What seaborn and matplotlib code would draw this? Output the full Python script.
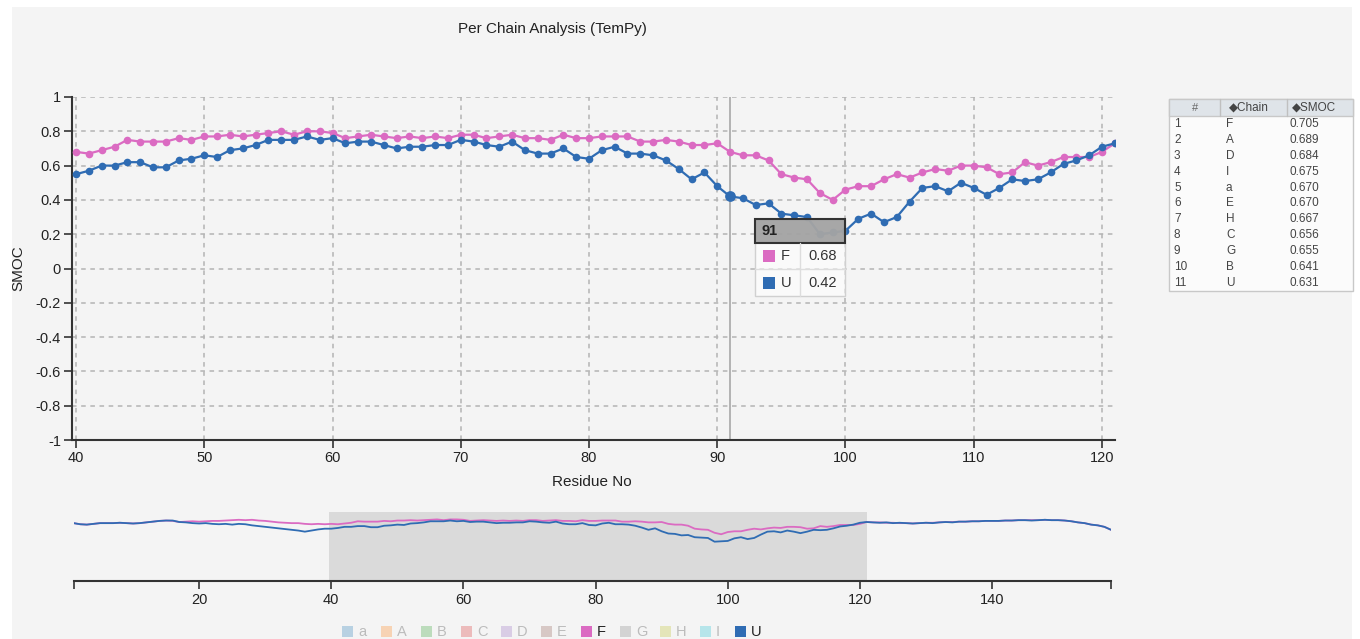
import numpy as np
import pandas as pd
import matplotlib
matplotlib.use("Agg")
import matplotlib.pyplot as plt
import matplotlib.colors as mcolors
import seaborn as sns
from matplotlib.patches import Rectangle
from matplotlib.lines import Line2D

# ---------------------------------------------------------------- data
residues = list(range(1, 159))

smoc_F = [
    # 1-39
    0.70, 0.67, 0.66, 0.68, 0.70, 0.70, 0.70, 0.71, 0.70, 0.69,
    0.70, 0.72, 0.74, 0.76, 0.77, 0.76, 0.73, 0.74, 0.75, 0.74,
    0.75, 0.76, 0.76, 0.77, 0.78, 0.79, 0.78, 0.79, 0.77, 0.76,
    0.74, 0.72, 0.71, 0.70, 0.70, 0.68, 0.67, 0.68, 0.67,
    # 40-121
    0.68, 0.67, 0.69, 0.71, 0.75, 0.74, 0.74, 0.74, 0.76, 0.75,
    0.77, 0.77, 0.78, 0.77, 0.78, 0.79, 0.80, 0.78, 0.80, 0.80,
    0.79, 0.76, 0.77, 0.78, 0.77, 0.76, 0.77, 0.76, 0.77, 0.76,
    0.78, 0.78, 0.76, 0.77, 0.78, 0.76, 0.76, 0.75, 0.78, 0.76,
    0.76, 0.77, 0.77, 0.77, 0.74, 0.74, 0.75, 0.74, 0.72, 0.72,
    0.73, 0.68, 0.66, 0.66, 0.63, 0.55, 0.53, 0.52, 0.44, 0.40,
    0.46, 0.48, 0.48, 0.52, 0.55, 0.53, 0.56, 0.58, 0.57, 0.60,
    0.60, 0.59, 0.55, 0.56, 0.62, 0.60, 0.62, 0.65, 0.65, 0.65,
    0.68, 0.73,
    # 122-158
    0.72, 0.72, 0.71, 0.71, 0.70, 0.70, 0.69, 0.70, 0.71, 0.71,
    0.72, 0.73, 0.73, 0.74, 0.74, 0.75, 0.75, 0.76, 0.76, 0.76,
    0.77, 0.77, 0.78, 0.78, 0.78, 0.78, 0.79, 0.78, 0.78, 0.77,
    0.75, 0.72, 0.70, 0.66, 0.64, 0.60, 0.52,
]

smoc_U = [
    # 1-39
    0.70, 0.67, 0.66, 0.68, 0.70, 0.70, 0.70, 0.71, 0.70, 0.69,
    0.70, 0.72, 0.74, 0.76, 0.77, 0.77, 0.73, 0.72, 0.70, 0.69,
    0.70, 0.68, 0.67, 0.68, 0.66, 0.68, 0.67, 0.64, 0.62, 0.60,
    0.58, 0.56, 0.54, 0.52, 0.50, 0.47, 0.50, 0.53, 0.55,
    # 40-121
    0.55, 0.57, 0.60, 0.60, 0.62, 0.62, 0.59, 0.59, 0.63, 0.64,
    0.66, 0.65, 0.69, 0.70, 0.72, 0.75, 0.75, 0.75, 0.77, 0.75,
    0.76, 0.73, 0.74, 0.74, 0.72, 0.70, 0.71, 0.71, 0.72, 0.72,
    0.75, 0.74, 0.72, 0.71, 0.74, 0.69, 0.67, 0.67, 0.70, 0.65,
    0.64, 0.69, 0.71, 0.67, 0.67, 0.66, 0.63, 0.58, 0.52, 0.56,
    0.48, 0.42, 0.41, 0.37, 0.38, 0.32, 0.31, 0.30, 0.20, 0.21,
    0.22, 0.29, 0.32, 0.27, 0.30, 0.39, 0.47, 0.48, 0.45, 0.50,
    0.47, 0.43, 0.47, 0.52, 0.51, 0.52, 0.56, 0.61, 0.63, 0.66,
    0.71, 0.73,
    # 122-158
    0.72, 0.71, 0.72, 0.70, 0.71, 0.70, 0.69, 0.70, 0.71, 0.70,
    0.72, 0.73, 0.72, 0.74, 0.74, 0.75, 0.75, 0.76, 0.76, 0.76,
    0.77, 0.77, 0.78, 0.78, 0.77, 0.78, 0.79, 0.78, 0.78, 0.77,
    0.75, 0.72, 0.70, 0.66, 0.64, 0.60, 0.52,
]

legend_chains = ["a", "A", "B", "C", "D", "E", "F", "G", "H", "I", "U"]
shown_chains = ["F", "U"]

table_rank = list(range(1, 12))
table_chain = ["F", "A", "D", "I", "a", "E", "H", "C", "G", "B", "U"]
table_smoc = [0.705, 0.689, 0.684, 0.675, 0.670, 0.670, 0.667, 0.656, 0.655, 0.641, 0.631]

title = "Per Chain Analysis (TemPy)"
x_label = "Residue No"
y_label = "SMOC"
main_xticks = list(range(40, 121, 10))
main_yticks = [-1.0, -0.8, -0.6, -0.4, -0.2, 0.0, 0.2, 0.4, 0.6, 0.8, 1.0]
overview_xticks = list(range(20, 141, 20))
view_window = (39.7, 121.0)
hover_residue = 91

# ---------------------------------------------------------------- style
sns.set_theme(style="white")
plt.rcParams["font.family"] = ["Liberation Sans", "DejaVu Sans"]

BG = "#f4f4f4"
cat10 = ["#1f77b4", "#ff7f0e", "#2ca02c", "#d62728", "#9467bd",
         "#8c564b", "#e377c2", "#7f7f7f", "#bcbd22", "#17becf"]
chain_colors = {c: cat10[i % 10] for i, c in enumerate(legend_chains)}
chain_colors["F"] = "#db6bc2"
chain_colors["U"] = "#2f6cb3"
palette = {c: chain_colors[c] for c in shown_chains}


def faded(color, alpha=0.28):
    r, g, b = mcolors.to_rgb(color)
    br, bg_, bb = mcolors.to_rgb(BG)
    return (alpha * r + (1 - alpha) * br,
            alpha * g + (1 - alpha) * bg_,
            alpha * b + (1 - alpha) * bb)


W, H = 1360, 639
fig = plt.figure(figsize=(W / 100, H / 100), dpi=100, facecolor="white")


def fx(px):
    return px / W


def fy(py):
    return 1 - py / H


def box(x0, y0, x1, y1, **kw):
    """Rectangle in pixel coordinates measured from the top-left corner."""
    r = Rectangle((fx(x0), fy(y1)), fx(x1) - fx(x0), fy(y0) - fy(y1),
                  transform=fig.transFigure, **kw)
    fig.add_artist(r)
    return r


def label(px, py, s, **kw):
    fig.text(fx(px), fy(py), s, **kw)


# light panel behind everything
box(12, 7, 1352, 660, facecolor=BG, edgecolor="none", zorder=0)

df = pd.DataFrame({
    "residue": residues * 2,
    "smoc": smoc_F + smoc_U,
    "chain": ["F"] * len(residues) + ["U"] * len(residues),
})

# ---------------------------------------------------------------- main chart
ax = fig.add_axes([fx(72.2), fy(440), fx(1114.8) - fx(72.2), fy(97) - fy(440)])
ax.patch.set_alpha(0)
main = df[(df.residue >= 40) & (df.residue <= 121)]
sns.lineplot(data=main, x="residue", y="smoc", hue="chain", palette=palette,
             marker="o", markersize=5.5, markeredgewidth=0, linewidth=1.6,
             legend=False, ax=ax, zorder=3)
ax.set_xlim(*view_window)
ax.set_ylim(-1.0, 1.0)
ax.set_xticks(main_xticks)
ax.set_yticks(main_yticks)
ax.set_yticklabels(["%g" % v for v in main_yticks])
ax.grid(True, color="#b4b4b4", linestyle=(0, (3, 3)), linewidth=1.1)
for s in ["top", "right"]:
    ax.spines[s].set_visible(False)
for s in ["left", "bottom"]:
    ax.spines[s].set_color("#333333")
    ax.spines[s].set_linewidth(1.5)
ax.tick_params(axis="both", which="major", length=6, width=1.2,
               color="#333333", labelsize=10.5, labelcolor="#222222",
               direction="out", left=True, bottom=True, pad=2)
ax.set_xlabel("")
ax.set_ylabel("")

# hover guide and tooltip
hi = residues.index(hover_residue)
ax.axvline(hover_residue, color="#a8a8a8", linewidth=1.2, zorder=2)
ax.scatter([hover_residue], [smoc_U[hi]], s=60, color=chain_colors["U"],
           zorder=5, linewidths=0)

box(755, 219, 845, 296, facecolor=(1, 1, 1, 0.55), edgecolor="#d0d0d0",
    linewidth=1, zorder=10)
box(755, 219, 845, 243, facecolor=(0.62, 0.62, 0.62, 0.9), edgecolor="#333333",
    linewidth=1.5, zorder=11)
label(762, 231, str(hover_residue), fontsize=10.5, fontweight="bold",
      va="center", ha="left", color="#222222", zorder=12)
fig.add_artist(Line2D([fx(755), fx(845)], [fy(269), fy(269)],
                      transform=fig.transFigure, color="#dddddd", lw=1, zorder=11))
fig.add_artist(Line2D([fx(800), fx(800)], [fy(243), fy(296)],
                      transform=fig.transFigure, color="#dddddd", lw=1, zorder=11))
for row, (ch, vals) in enumerate([("F", smoc_F), ("U", smoc_U)]):
    cy = 256 + row * 27
    box(763, cy - 6, 775, cy + 6, facecolor=chain_colors[ch], edgecolor="none", zorder=12)
    label(781, cy, ch, fontsize=10.5, va="center", ha="left", color="#333333", zorder=12)
    label(808, cy, "%.2f" % vals[hi], fontsize=10.5, va="center", ha="left",
          color="#333333", zorder=12)

# titles
label(552, 29, title, fontsize=11, ha="center", va="center", color="#222222")
label(592, 482, x_label, fontsize=11, ha="center", va="center", color="#222222")
label(18, 268, y_label, fontsize=11, ha="center", va="center", rotation=90,
      color="#222222")

# ---------------------------------------------------------------- overview
ax2 = fig.add_axes([fx(73.6), fy(581), fx(1111) - fx(73.6), fy(512) - fy(581)])
ax2.patch.set_alpha(0)
ax2.axvspan(*view_window, color="#dadada", zorder=0, linewidth=0)
sns.lineplot(data=df, x="residue", y="smoc", hue="chain", palette=palette,
             linewidth=1.3, legend=False, ax=ax2, zorder=3)
ax2.set_xlim(residues[0], residues[-1])
ax2.set_ylim(-0.86, 1.0)
ax2.set_yticks([])
ax2.set_xticks([residues[0]] + overview_xticks + [residues[-1]])
ax2.set_xticklabels([""] + [str(t) for t in overview_xticks] + [""])
for s in ["top", "right", "left"]:
    ax2.spines[s].set_visible(False)
ax2.spines["bottom"].set_color("#333333")
ax2.spines["bottom"].set_linewidth(1.5)
ax2.tick_params(axis="x", length=6, width=1.2, color="#333333",
                labelsize=10.5, labelcolor="#222222", direction="out",
                bottom=True, pad=3)
ax2.set_xlabel("")
ax2.set_ylabel("")

# ---------------------------------------------------------------- chain legend
leg_x = [342, 381, 421, 461, 501, 541, 581, 620, 660, 700, 735]
for ch, lx in zip(legend_chains, leg_x):
    active = ch in shown_chains
    col = chain_colors[ch] if active else faded(chain_colors[ch])
    box(lx, 626, lx + 11, 637, facecolor=col, edgecolor="none", zorder=5)
    label(lx + 16, 631.5, ch, fontsize=10.5, ha="left", va="center",
          color="#222222" if active else faded("#555555", 0.35))

# ---------------------------------------------------------------- summary table
tx0, tx1 = 1169, 1353
ty0, th = 99, 17
row_h = 15.9
col_div = [1220, 1287]
n_rows = len(table_rank)
ty1 = ty0 + th + n_rows * row_h
box(tx0, ty0, tx1, ty1, facecolor="#fbfbfb", edgecolor="#c8c8c8", linewidth=1, zorder=5)
box(tx0, ty0, tx1, ty0 + th, facecolor="#dfe4e9", edgecolor="#c8c8c8", linewidth=1, zorder=6)
for cx in col_div:
    fig.add_artist(Line2D([fx(cx), fx(cx)], [fy(ty0), fy(ty0 + th)],
                          transform=fig.transFigure, color="#c0c0c0", lw=1, zorder=7))
label(1195, ty0 + th / 2 + 0.5, "#", fontsize=8, ha="center", va="center", color="#666666", zorder=8)
label(1229, ty0 + th / 2 + 0.5, "\u25c6Chain", fontsize=8.5, ha="left", va="center", color="#444444", zorder=8)
label(1292, ty0 + th / 2 + 0.5, "\u25c6SMOC", fontsize=8.5, ha="left", va="center", color="#444444", zorder=8)
for i, (rk, ch, sv) in enumerate(zip(table_rank, table_chain, table_smoc)):
    cy = ty0 + th + row_h * (i + 0.5)
    label(1174, cy, str(rk), fontsize=8.5, ha="left", va="center", color="#444444", zorder=8)
    label(1226, cy, ch, fontsize=8.5, ha="left", va="center", color="#444444", zorder=8)
    label(1289, cy, "%.3f" % sv, fontsize=8.5, ha="left", va="center", color="#444444", zorder=8)

fig.savefig("out.png", dpi=100, facecolor="white")
